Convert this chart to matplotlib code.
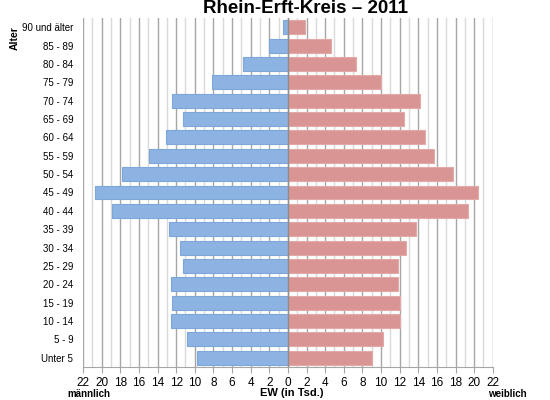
import numpy as np
import matplotlib.pyplot as plt
from matplotlib.ticker import MultipleLocator, FuncFormatter

# Altersgruppen (von unten nach oben)
altersgruppen = ['Unter 5', '5 - 9', '10 - 14', '15 - 19', '20 - 24', '25 - 29',
                 '30 - 34', '35 - 39', '40 - 44', '45 - 49', '50 - 54', '55 - 59',
                 '60 - 64', '65 - 69', '70 - 74', '75 - 79', '80 - 84', '85 - 89',
                 '90 und älter']

# Einwohner in Tsd.
maennlich = [9.8, 10.8, 12.6, 12.5, 12.6, 11.3, 11.6, 12.8, 18.9, 20.7, 17.8, 14.9,
             13.1, 11.3, 12.4, 8.1, 4.8, 2.0, 0.5]
weiblich = [9.05, 10.2, 12.0, 12.0, 11.8, 11.8, 12.7, 13.7, 19.3, 20.4, 17.7, 15.7,
            14.7, 12.5, 14.2, 10.0, 7.3, 4.6, 1.8]

plt.rcParams['font.family'] = ['Liberation Sans', 'DejaVu Sans']

fig = plt.figure(figsize=(5.5, 4.0), dpi=100)
ax = fig.add_axes([0.151, 0.0825, 0.745, 0.8725])

y = np.arange(len(altersgruppen))
ax.barh(y, -np.array(maennlich), height=0.76, color='#8DB3E2',
        edgecolor='#7FA6DA', linewidth=0.8, zorder=3)
ax.barh(y, weiblich, height=0.76, color='#D99594',
        edgecolor='#E3A9A8', linewidth=0.8, zorder=3)

ax.set_xlim(-22, 22)
ax.set_ylim(-0.5, 18.5)

# Gitter
ax.xaxis.set_major_locator(MultipleLocator(2))
ax.xaxis.set_minor_locator(MultipleLocator(1))
ax.grid(which='major', axis='x', color='#A6A6A6', linewidth=1.0, zorder=0)
ax.grid(which='minor', axis='x', color='#D9D9D9', linewidth=1.0, zorder=0)
ax.xaxis.set_major_formatter(FuncFormatter(lambda v, p: f'{abs(int(round(v)))}'))
ax.tick_params(axis='x', which='major', length=4, color='#A6A6A6', labelsize=8.5, pad=3)
ax.tick_params(axis='x', which='minor', length=0)

ax.set_yticks(y)
ax.set_yticklabels(altersgruppen)
ax.tick_params(axis='y', length=0, labelsize=7, pad=7)

ax.axvline(0, color='#8C8C8C', linewidth=1.0, zorder=4)

for s in ['top', 'right', 'left']:
    ax.spines[s].set_visible(False)
ax.spines['bottom'].set_color('#A6A6A6')

fig.text(0.556, 1 - 13.3 / 400, 'Rhein-Erft-Kreis – 2011', ha='center', va='baseline',
         fontsize=13.5, fontweight='bold')
fig.text(0.027, 0.905, 'Alter', rotation=90, ha='center', va='center',
         fontsize=7.5, fontweight='bold')
fig.text(0.531, 0.0175, 'EW (in Tsd.)', ha='center', va='center',
         fontsize=8, fontweight='bold')
fig.text(0.162, 0.014, 'männlich', ha='center', va='center',
         fontsize=7, fontweight='bold')
fig.text(0.922, 0.014, 'weiblich', ha='center', va='center',
         fontsize=7, fontweight='bold')

fig.savefig('out.png', dpi=100)
